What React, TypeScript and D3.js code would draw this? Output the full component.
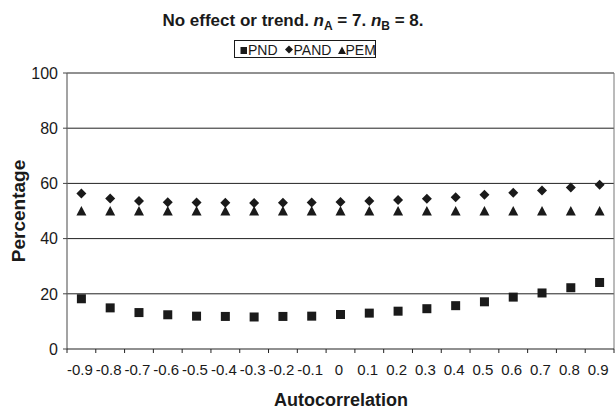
import React from "react"
import * as d3 from "d3"

const categories = ["-0.9", "-0.8", "-0.7", "-0.6", "-0.5", "-0.4", "-0.3", "-0.2", "-0.1", "0", "0.1", "0.2", "0.3", "0.4", "0.5", "0.6", "0.7", "0.8", "0.9"]
const pnd = [18.2, 14.9, 13.2, 12.4, 11.9, 11.8, 11.6, 11.8, 11.9, 12.5, 13.0, 13.7, 14.6, 15.7, 17.1, 18.8, 20.3, 22.2, 24.1]
const pand = [56.3, 54.5, 53.6, 53.2, 53.1, 53.0, 52.9, 53.0, 53.1, 53.3, 53.6, 54.0, 54.4, 55.0, 55.9, 56.6, 57.4, 58.5, 59.5]
const pem = [50, 50, 50, 50, 50, 50, 50, 50, 50, 50, 50, 50, 50, 50, 50, 50, 50, 50, 50]
const yTicks = [0, 20, 40, 60, 80, 100]

const W = 616, H = 410
const margin = {top: 73, right: 2, bottom: 61, left: 67}
const font = "Liberation Sans, Arial, sans-serif"

function Square({x, y}: {x: number, y: number}) {
    return <rect x={x - 4.5} y={y - 4.5} width={9} height={9} fill="#1a1a1a" />
}
function Diamond({x, y}: {x: number, y: number}) {
    return <path d={`M${x},${y - 5}L${x + 5},${y}L${x},${y + 5}L${x - 5},${y}Z`} fill="#1a1a1a" />
}
function Triangle({x, y}: {x: number, y: number}) {
    return <path d={`M${x},${y - 5}L${x + 5},${y + 4.5}L${x - 5},${y + 4.5}Z`} fill="#1a1a1a" />
}

export default function App() {
    const x = d3.scaleBand().domain(categories).range([margin.left, W - margin.right])
    const y = d3.scaleLinear().domain([0, 100]).range([H - margin.bottom, margin.top])
    const cx = (c: string) => (x(c) as number) + x.bandwidth() / 2
    const boundaries = categories.map(c => x(c) as number).concat([W - margin.right])

    return (
        <svg width={W} height={H} style={{position: "absolute", left: 0, top: 0, background: "#fff"}} fontFamily={font}>
            <text x={293} y={26} textAnchor="middle" fontSize={17} fontWeight="bold" fill="#1a1a1a">
                No effect or trend. <tspan fontStyle="italic">n</tspan>
                <tspan fontSize={12} dy={4}>A</tspan>
                <tspan dy={-4}> = 7. </tspan>
                <tspan fontStyle="italic">n</tspan>
                <tspan fontSize={12} dy={4}>B</tspan>
                <tspan dy={-4}> = 8.</tspan>
            </text>

            {/* legend */}
            <rect x={234.5} y={40.5} width={141} height={17} fill="#fff" stroke="#1a1a1a" strokeWidth={1} />
            <rect x={240.5} y={47} width={6.5} height={7} fill="#1a1a1a" />
            <text x={248} y={54.5} fontSize={14} fill="#1a1a1a">PND</text>
            <path d="M289,45.5L293,49.5L289,53.5L285,49.5Z" fill="#1a1a1a" />
            <text x={293.5} y={54.5} fontSize={14} fill="#1a1a1a">PAND</text>
            <path d="M342,46.5L346,54L338,54Z" fill="#1a1a1a" />
            <text x={345.5} y={54.5} fontSize={14} fill="#1a1a1a">PEM</text>

            {/* gridlines */}
            {yTicks.filter(t => t > 0).map(t => (
                <line key={t} x1={margin.left} x2={W - margin.right} y1={y(t)} y2={y(t)} stroke="#222" strokeWidth={1} />
            ))}
            <line x1={W - margin.right} x2={W - margin.right} y1={y(100)} y2={y(0)} stroke="#777" />

            {/* y axis */}
            <line x1={margin.left} x2={margin.left} y1={y(100)} y2={y(0)} stroke="#666" strokeWidth={1.2} />
            {yTicks.map(t => (
                <g key={t}>
                    <line x1={margin.left - 4} x2={margin.left} y1={y(t)} y2={y(t)} stroke="#444" />
                    <text x={margin.left - 9} y={y(t)} dy="0.36em" textAnchor="end" fontSize={16} fill="#1a1a1a">{t}</text>
                </g>
            ))}
            <text transform={`translate(25,${(y(0) + y(100)) / 2}) rotate(-90)`} textAnchor="middle" fontSize={19} fontWeight="bold" fill="#1a1a1a">Percentage</text>

            {/* x axis */}
            <line x1={margin.left} x2={W - margin.right} y1={y(0)} y2={y(0)} stroke="#222" strokeWidth={1.2} />
            {boundaries.map((b, i) => (
                <line key={i} x1={b} x2={b} y1={y(0)} y2={y(0) + 4} stroke="#222" />
            ))}
            {categories.map(c => (
                <text key={c} x={cx(c) - 1.5} y={375} textAnchor="middle" fontSize={15} fill="#1a1a1a">{c}</text>
            ))}
            <text x={341} y={406} textAnchor="middle" fontSize={18} fontWeight="bold" fill="#1a1a1a">Autocorrelation</text>

            {/* markers */}
            {categories.map((c, i) => <Triangle key={"t" + c} x={cx(c)} y={y(pem[i])} />)}
            {categories.map((c, i) => <Diamond key={"d" + c} x={cx(c)} y={y(pand[i])} />)}
            {categories.map((c, i) => <Square key={"s" + c} x={cx(c)} y={y(pnd[i])} />)}
        </svg>
    )
}
